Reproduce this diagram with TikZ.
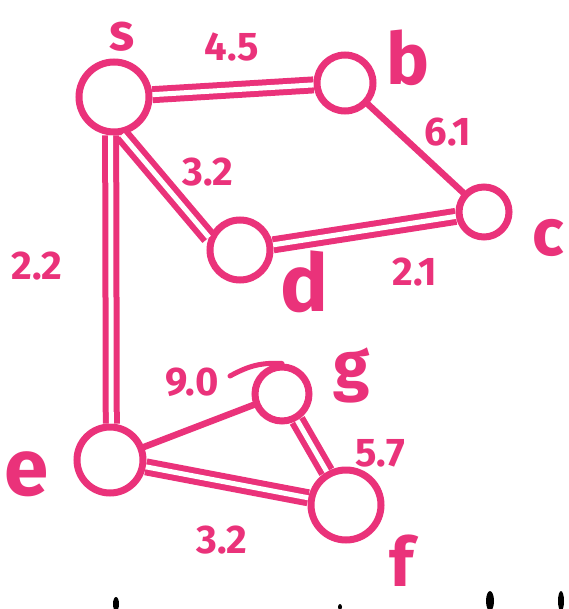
\documentclass[tikz,border=0pt]{standalone}
\usepackage{fontspec}
\setmainfont{Fira Sans}
\definecolor{ink}{RGB}{234,50,122}
\begin{document}
\begin{tikzpicture}[x=1pt,y=-1pt,
  vert/.style={circle,draw=ink,line width=7pt,inner sep=0pt},
  dbl/.style={draw=ink,line width=6pt,double=white,double distance=5pt},
  sgl/.style={draw=ink,line width=6.5pt,line cap=round},
  lab/.style={text=ink,font=\bfseries\fontsize{40}{40}\selectfont,inner sep=0pt},
  let/.style={text=ink,inner sep=0pt}]
\useasboundingbox (0,0) rectangle (568,609);
% vertices
\node[vert,minimum width=70pt,minimum height=64pt] (s) at (114,97) {};
\node[vert,minimum size=56pt] (b) at (345,83) {};
\node[vert,minimum size=50pt] (c) at (484,212) {};
\node[vert,minimum width=60pt,minimum height=58pt] (d) at (240,250) {};
\node[vert,minimum size=54pt] (g) at (282,394) {};
\node[vert,minimum width=66pt,minimum height=62pt] (e) at (110,460) {};
\node[vert,minimum width=70pt,minimum height=66pt] (f) at (346,505) {};
% edges
\draw[dbl] (s) -- (b);
\draw[sgl] (b) -- (c);
\draw[dbl] (d) -- (c);
\draw[dbl] (s.-78) -- (d.158);
\draw[dbl] (s.-95) -- (e.88);
\draw[sgl] (e) -- (g);
\draw[dbl] (g) -- (f);
\draw[dbl] (e) -- (f);
% tail on g
\coordinate (gt) at (230,376);
\draw[sgl,line width=5pt] (gt) .. controls (245,368) and (258,362) .. (g.north);
% labels
\node[let,font=\bfseries\fontsize{52}{52}\selectfont] (ls) at (122,37) {s};
\node[lab] (l45) at (232,47) {4.5};
\node[let,font=\bfseries\fontsize{72}{72}\selectfont] (lb) at (408,58) {b};
\node[lab] (l61) at (448,132) {6.1};
\node[lab] (l32a) at (208,172) {3.2};
\node[let,font=\bfseries\fontsize{66}{66}\selectfont] (lc) at (548,238) {c};
\node[lab] (l21) at (415,272) {2.1};
\node[let,font=\bfseries\fontsize{80}{80}\selectfont] (ld) at (304,282) {d};
\node[lab] (l22) at (37,266) {2.2};
\node[lab] (l90) at (192,382) {9.0};
\node[let,font=\bfseries\fontsize{66}{66}\selectfont] (lg) at (352,375) {g};
\node[lab] (l57) at (380,453) {5.7};
\node[let,font=\bfseries\fontsize{80}{80}\selectfont] (le) at (27,474) {e};
\node[lab] (l32b) at (222,540) {3.2};
\node[let,font=\bfseries\fontsize{68}{68}\selectfont,anchor=base] (lf) at (402,586) {f};
% black marks at bottom edge
\fill[black] (116,604) ellipse (3pt and 7pt);
\fill[black] (340,607) ellipse (2pt and 3pt);
\fill[black] (490,601) ellipse (4pt and 10pt);
\fill[black] (561,601) ellipse (3pt and 10pt);
\end{tikzpicture}
\end{document}
